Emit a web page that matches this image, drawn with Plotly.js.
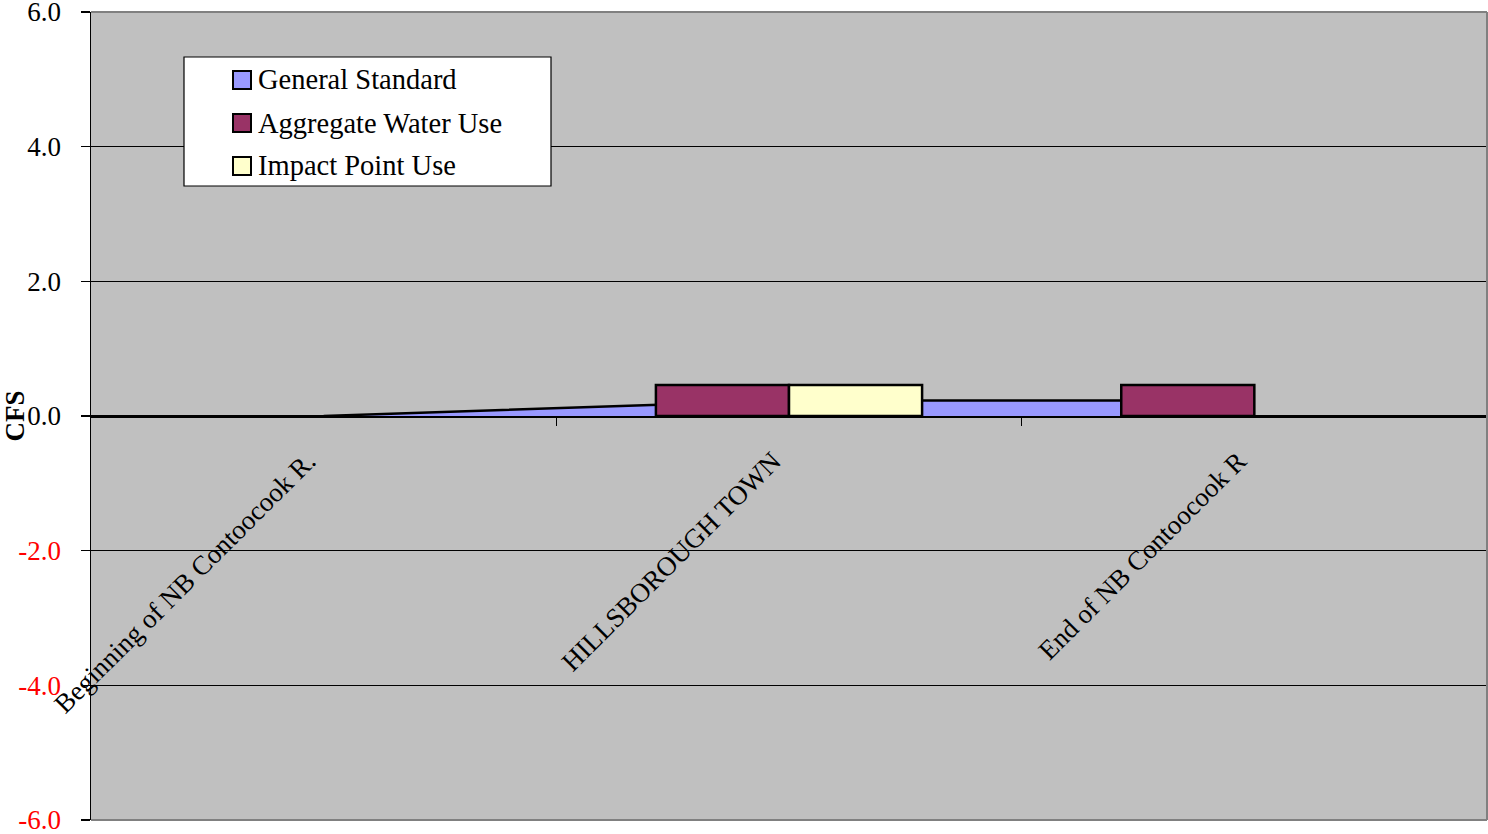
<!DOCTYPE html>
<html>
<head>
<meta charset="utf-8">
<script src="https://cdn.plot.ly/plotly-3.0.1.min.js"></script>
<style>html,body{margin:0;padding:0;background:#fff;}#chart{width:1488px;height:834px;}</style>
</head>
<body>
<div id="chart"></div>
<script>
const categories = ['Beginning of NB Contoocook R.', 'HILLSBOROUGH TOWN', 'End of NB Contoocook R'];
const seriesNames = ['General Standard', 'Aggregate Water Use', 'Impact Point Use'];
const seriesColors = ['#9999FF', '#993366', '#FFFFCC'];
const generalStandard = [0, 0.23, 0.23];
const aggregateWaterUse = [0, 0.46, 0.46];
const impactPointUse = [0, 0.46, 0];
const yTickValues = [-6, -4, -2, 0, 2, 4, 6];

const catIdx = categories.map((c, i) => i);
const yTickText = yTickValues.map(v => v < 0
  ? '<span style="color:#FF0000">' + v.toFixed(1) + '</span>'
  : v.toFixed(1));
const borderFor = arr => arr.map(v => (v > 0 ? 2.5 : 0));

const FONT = 'Liberation Serif, Times New Roman, serif';

// plot area in pixels: x 91..1487, y 12..820
const PX = {l: 91, r: 1487, t: 12, b: 820};
const px2x = x => (x - PX.l) / (PX.r - PX.l);
const px2y = y => (PX.b - y) / (PX.b - PX.t);

const traces = [
  {
    type: 'scatter', mode: 'lines', name: seriesNames[0],
    x: catIdx, y: generalStandard, fill: 'tozeroy',
    fillcolor: seriesColors[0], line: {color: '#000', width: 2.5},
    showlegend: false, xaxis: 'x', yaxis: 'y'
  },
  {
    type: 'bar', name: seriesNames[1], x: catIdx, y: aggregateWaterUse,
    marker: {color: seriesColors[1], line: {color: '#000', width: borderFor(aggregateWaterUse)}},
    xaxis: 'x2', yaxis: 'y2', showlegend: false
  },
  {
    type: 'bar', name: seriesNames[2], x: catIdx, y: impactPointUse,
    marker: {color: seriesColors[2], line: {color: '#000', width: borderFor(impactPointUse)}},
    xaxis: 'x2', yaxis: 'y2', showlegend: false
  }
];

// legend drawn as shapes + text annotations
const legendBox = {x0: 184, x1: 551, y0: 57, y1: 186};
const rowY = [80, 123, 166];
const shapes = [
  {type: 'rect', xref: 'paper', yref: 'paper',
   x0: px2x(legendBox.x0), x1: px2x(legendBox.x1), y0: px2y(legendBox.y1), y1: px2y(legendBox.y0),
   fillcolor: '#FFFFFF', line: {color: '#000', width: 1.2}, layer: 'above'},
  // plot-area border (top, right, bottom) in grey
  {type: 'line', xref: 'paper', yref: 'paper', x0: 0, x1: 1, y0: 1, y1: 1, line: {color: '#808080', width: 2}, layer: 'above'},
  {type: 'line', xref: 'paper', yref: 'paper', x0: 1, x1: 1, y0: 0, y1: 1, line: {color: '#808080', width: 2}, layer: 'above'},
  {type: 'line', xref: 'paper', yref: 'paper', x0: 0, x1: 1, y0: 0, y1: 0, line: {color: '#808080', width: 2}, layer: 'above'}
];
const annotations = [];
seriesNames.forEach((name, i) => {
  shapes.push({type: 'rect', xref: 'paper', yref: 'paper',
    x0: px2x(233), x1: px2x(251), y0: px2y(rowY[i] + 9), y1: px2y(rowY[i] - 9),
    fillcolor: seriesColors[i], line: {color: '#000', width: 2}, layer: 'above'});
  annotations.push({xref: 'paper', yref: 'paper', x: px2x(256), y: px2y(rowY[i]),
    xanchor: 'left', yanchor: 'middle', showarrow: false, text: name,
    font: {family: FONT, size: 28.5, color: '#000'}});
});

const layout = {
  width: 1488, height: 834,
  margin: {l: 91, r: 1, t: 12, b: 14, pad: 0},
  paper_bgcolor: '#FFFFFF',
  plot_bgcolor: '#C0C0C0',
  font: {family: FONT, size: 27, color: '#000'},
  showlegend: false,
  barmode: 'group',
  bargap: 0.428,
  bargroupgap: 0,
  xaxis: {
    type: 'linear', range: [-0.5, 2.5],
    anchor: 'free', position: 0.5,
    showline: true, linecolor: '#000', linewidth: 1.5,
    showgrid: false, zeroline: false,
    tickmode: 'array', tickvals: catIdx, ticktext: categories,
    ticks: '', tickangle: -45,
    ticklabelstandoff: 17, ticklabelshift: -16,
    tickfont: {family: FONT, size: 27, color: '#000'},
    minor: {tickmode: 'array', tickvals: [0.5, 1.5, 2.5], ticks: 'outside', ticklen: 8, tickcolor: '#000', tickwidth: 1.5, showgrid: false},
    fixedrange: true
  },
  yaxis: {
    range: [-6, 6], tickmode: 'array', tickvals: yTickValues, ticktext: yTickText,
    showline: true, linecolor: '#000', linewidth: 1.5,
    ticks: 'outside', ticklen: 9, tickcolor: '#000', tickwidth: 1.5,
    ticklabelstandoff: 14, ticklabeloverflow: 'allow',
    showgrid: true, gridcolor: '#000', gridwidth: 1,
    zeroline: true, zerolinecolor: '#000', zerolinewidth: 1.5,
    tickfont: {family: FONT, size: 27, color: '#000'},
    title: {text: '<b>CFS</b>', font: {family: FONT, size: 27, color: '#000'}, standoff: 0},
    automargin: false, fixedrange: true
  },
  xaxis2: {overlaying: 'x', range: [-0.5, 2.5], visible: false, fixedrange: true},
  yaxis2: {overlaying: 'y', range: [-6, 6], visible: false, fixedrange: true},
  shapes: shapes,
  annotations: annotations
};

Plotly.newPlot('chart', traces, layout, {displayModeBar: false, staticPlot: true});
</script>
</body>
</html>
